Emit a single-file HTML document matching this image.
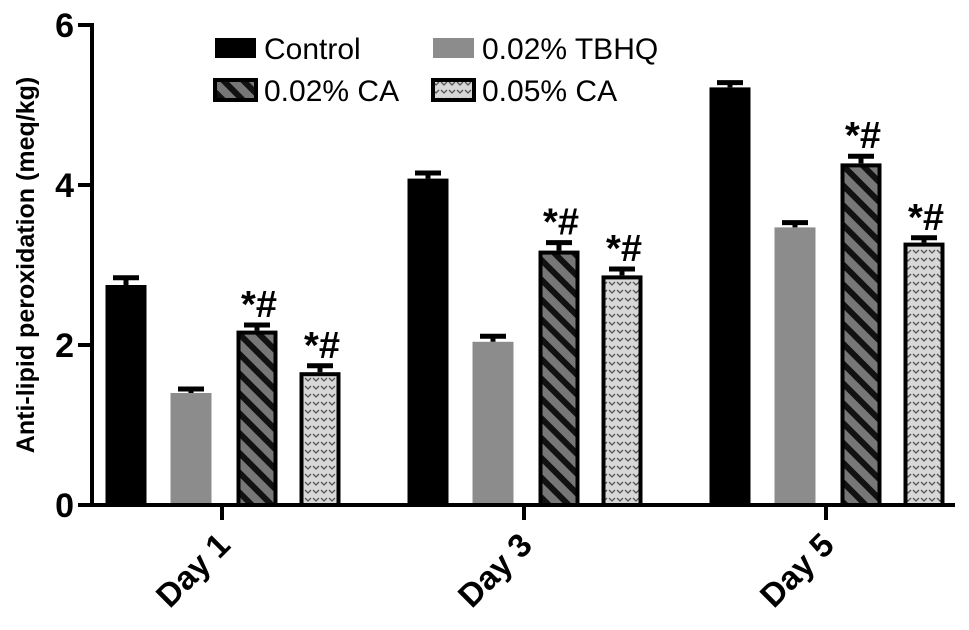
<!DOCTYPE html>
<html><head><meta charset="utf-8"><style>
body{margin:0;background:#fff;}
svg{display:block;font-family:"Liberation Sans",Arial,sans-serif;}
</style></head><body>
<svg id="chart" width="969" height="630" viewBox="0 0 969 630">
<defs>
<pattern id="hatch" patternUnits="userSpaceOnUse" width="14" height="14" patternTransform="rotate(-45)">
<rect width="14" height="14" fill="#777"/><rect width="6" height="14" fill="#111"/>
</pattern>
<pattern id="dots" patternUnits="userSpaceOnUse" width="8" height="8">
<rect width="8" height="8" fill="#d8d8d8"/><path d="M1 2 L4 5 L7 2" stroke="#555" stroke-width="1.3" fill="none"/>
</pattern>
</defs>
<g id="plot"></g>
</svg>
<script>
const categories=["Day 1","Day 3","Day 5"];
const seriesNames=["Control","0.02% TBHQ","0.02% CA","0.05% CA"];
const control=[2.75,4.08,5.22];
const tbhq=[1.4,2.04,3.47];
const ca02=[2.18,3.18,4.27];
const ca05=[1.66,2.87,3.28];
const errors=[[0.09,0.07,0.06],[0.05,0.07,0.06],[0.07,0.1,0.09],[0.08,0.08,0.06]];
const sig=[[false,false,false],[false,false,false],[true,true,true],[true,true,true]];
const yTicks=[0,2,4,6];
const NS="http://www.w3.org/2000/svg";
const g=document.getElementById('plot');
const y0=505,yScale=80,x0=92,xEnd=955;
const y=v=>y0-v*yScale;
const groupCenter=i=>222+i*302;
const barOffsets=[-96,-31,35,98];
const bw=41;
const fills=["#000","#8c8c8c","url(#hatch)","url(#dots)"];
const values=[control,tbhq,ca02,ca05];
function el(tag,attrs){const e=document.createElementNS(NS,tag);for(const k in attrs)e.setAttribute(k,attrs[k]);g.appendChild(e);return e;}
values.forEach((arr,s)=>{arr.forEach((v,i)=>{
 const cx=groupCenter(i)+barOffsets[s];
 const outlined=s>=2;
 const b=el('rect',{x:cx-bw/2+(outlined?2:0),y:y(v)+(outlined?2:0),width:bw-(outlined?4:0),height:v*yScale-(outlined?2:0),fill:fills[s],stroke:outlined?'#000':'none','stroke-width':outlined?4:0});
 
 
 const e=errors[s][i];
 const eb=el('path',{d:`M${cx} ${y(v)} V${y(v+e)} M${cx-13} ${y(v+e)} H${cx+13}`,stroke:'#000','stroke-width':5,fill:'none'});
 
 
 if(sig[s][i]){const t=el('text',{x:cx+2,y:y(v+e)-8,'font-size':38,'font-weight':'bold','text-anchor':'middle',fill:'#000'});t.textContent='*#';
 
 }
});});
const ya=el('path',{d:`M${x0} ${y(6)-2} V${y0}`,stroke:'#000','stroke-width':4,fill:'none'});


const xa=el('path',{d:`M${x0-14} ${y0} H${xEnd}`,stroke:'#000','stroke-width':4,fill:'none'});


yTicks.forEach(t=>{
 const tk=el('path',{d:`M${x0-14} ${y(t)} H${x0}`,stroke:'#000','stroke-width':4});
 
 
 const lb=el('text',{x:x0-18,y:y(t)+12,'font-size':34,'font-weight':'bold','text-anchor':'end'});lb.textContent=t;
 
 
});
categories.forEach((c,i)=>{
 const cx=groupCenter(i);
 const tk=el('path',{d:`M${cx} ${y0} V${y0+15}`,stroke:'#000','stroke-width':4});
 
 
 const lb=el('text',{x:cx+10,y:y0+42,'font-size':33,'font-weight':'bold','text-anchor':'end',transform:`rotate(-45 ${cx+10} ${y0+42})`});lb.textContent=c;
 
 
});
const yt=el('text',{x:0,y:0,'font-size':25,'font-weight':'bold','text-anchor':'middle',transform:'translate(34 265) rotate(-90)'});yt.textContent='Anti-lipid peroxidation (meq/kg)';


const legPos=[[215,38],[433,38],[215,80],[433,80]];
const legFill=["#000","#8c8c8c","url(#hatch)","url(#dots)"];
seriesNames.forEach((n,s)=>{
 const [lx,ly]=legPos[s];
 const r=el('rect',{x:lx,y:ly,width:41,height:20,fill:legFill[s],stroke:s>=2?'#000':'none','stroke-width':4});
 
 
 const t=el('text',{x:lx+49,y:ly+21,'font-size':30,fill:'#000'});t.textContent=n;
 
 
});
</script>
</body></html>
